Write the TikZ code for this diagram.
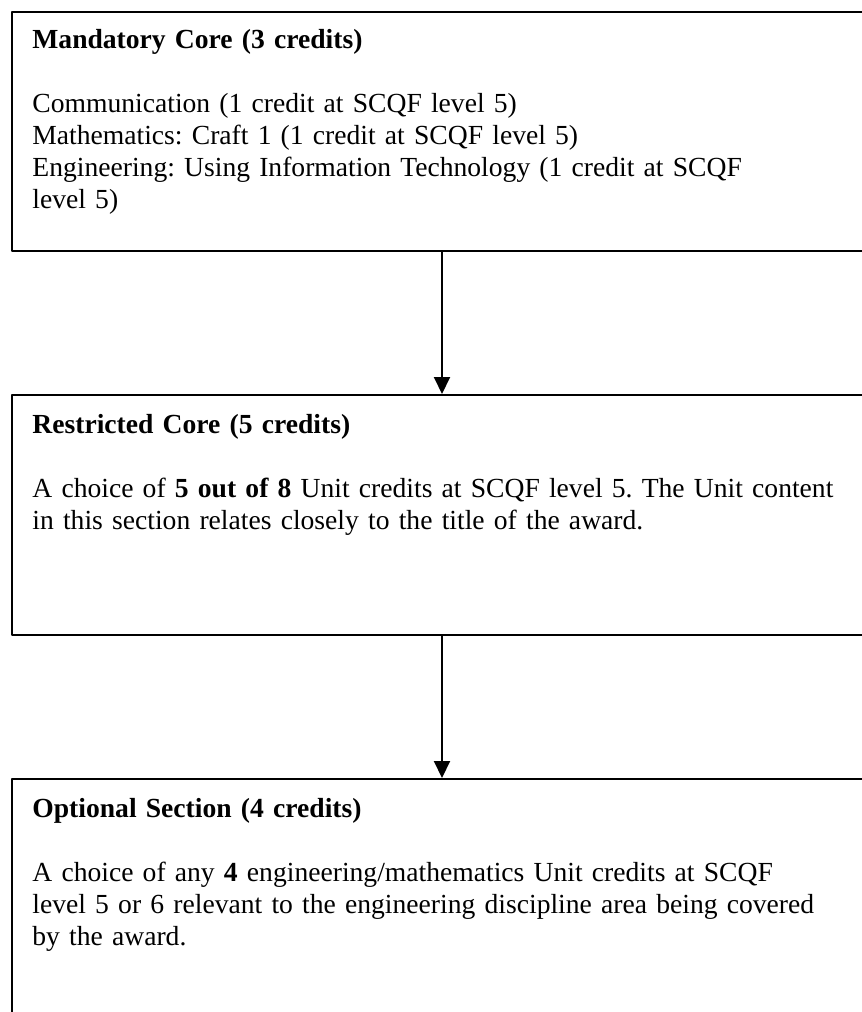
\documentclass[tikz,border=0pt]{standalone}
\usepackage{fontspec}
\setmainfont{Liberation Serif}
\usetikzlibrary{arrows.meta}
\frenchspacing
\begin{document}
\begin{tikzpicture}[x=0.5pt,y=-0.5pt,line join=round,
  font=\fontsize{13.8}{16}\selectfont,
  box/.style={draw,line width=1pt,anchor=north west,minimum width=430pt,inner sep=0pt},
  txt/.style={anchor=north west,inner sep=0pt,text width=440pt,align=left},
  arr/.style={line width=1pt,-{Triangle[width=8pt,length=8.5pt]}}]
\useasboundingbox (0,0) rectangle (862,1012);
\node[box,minimum height=119.5pt] (mand) at (11,11) {};
\node[box,minimum height=120pt] (restr) at (11,394) {};
\node[box,minimum height=126pt] (opt) at (11,778) {};
\node[txt] (mandtxt) at (32,29) {\textbf{Mandatory Core (3 credits)}\\[16pt]
  Communication (1 credit at SCQF level 5)\\
  Mathematics: Craft 1 (1 credit at SCQF level 5)\\
  Engineering: Using Information Technology (1 credit at SCQF\\
  level 5)};
\node[txt] (restrtxt) at (32,414) {\textbf{Restricted Core (5 credits)}\\[16pt]
  A choice of \textbf{5 out of 8} Unit credits at SCQF level 5. The Unit content\\
  in this section relates closely to the title of the award.};
\node[txt] (opttxt) at (32,798) {\textbf{Optional Section (4 credits)}\\[16pt]
  A choice of any \textbf{4} engineering/mathematics Unit credits at SCQF\\
  level 5 or 6 relevant to the engineering discipline area being covered\\
  by the award.};
\coordinate (axis) at (442,0);
\draw[arr] (axis |- mand.south) -- (axis |- restr.north);
\draw[arr] (axis |- restr.south) -- (axis |- opt.north);
\end{tikzpicture}
\end{document}
